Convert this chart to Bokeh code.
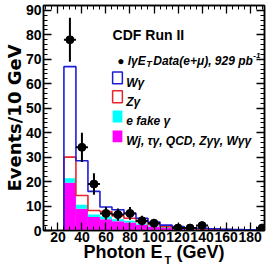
import numpy as np
from bokeh.plotting import figure
from bokeh.models import (Label, BoxAnnotation, LinearAxis, SingleIntervalTicker,
                          FixedTicker, Range1d)
from bokeh.embed import file_html
from bokeh.resources import INLINE

# ---------------- data ----------------
bin_left = [25, 35, 45, 55, 65, 75, 85, 95, 105, 115, 125, 135, 145, 155, 165, 175, 185]
bin_width = 10
# stacked components, bottom to top
other_bkg = [19.5, 8.9, 5.5, 4.6, 3.8, 3.3, 2.4, 1.6, 1.0, 0.7, 0.5, 0.4, 0.3, 0.25, 0.2, 0.15, 0.1]
e_fake = [1.9, 1.6, 1.0, 1.1, 0.8, 0.7, 0.5, 0.4, 0.3, 0.2, 0.1, 0.1, 0.1, 0.05, 0.05, 0.05, 0.05]
z_gamma = [8.6, 3.8, 1.7, 2.0, 1.4, 1.0, 0.7, 0.5, 0.3, 0.2, 0.2, 0.1, 0.1, 0.05, 0.05, 0.0, 0.05]
w_gamma = [37.0, 14.2, 7.8, 1.9, 2.5, 2.0, 1.4, 1.0, 0.6, 0.5, 0.3, 0.3, 0.2, 0.15, 0.1, 0.1, 0.1]

data_x = [30, 40, 50, 60, 70, 80, 90, 100, 120, 130, 140, 190]
data_y = [78, 34, 19, 7, 6.5, 7, 4, 3, 1, 1, 2, 1]
data_err = [9, 6, 4.4, 2.6, 2.5, 2.6, 2.0, 1.7, 1.0, 1.0, 1.4, 1.0]

x_major = 20
y_major = 10

# ---------------- derived ----------------
left = np.array(bin_left, dtype=float)
right = left + bin_width
top_mag = np.array(other_bkg)
top_cyan = top_mag + np.array(e_fake)
top_red = top_cyan + np.array(z_gamma)
top_blue = top_red + np.array(w_gamma)

def step_xy(tops):
    xs = [left[0]] + list(left) + [right[-1]]
    ys = [0.0] + list(tops) + [0.0]
    return xs, ys

X0, X1 = 8, 192
Y0, Y1 = 0, 92
FONT = "Liberation Sans"
BLUE = "#1c1cd8"
RED = "#e8262a"

p = figure(width=268, height=268, x_range=Range1d(X0, X1), y_range=Range1d(Y0, Y1),
           output_backend="svg", toolbar_location=None,
           min_border_left=37, min_border_right=4, min_border_top=5, min_border_bottom=36)
p.background_fill_color = "white"
p.border_fill_color = "white"
p.outline_line_color = "black"
p.outline_line_width = 1.5
p.xgrid.visible = False
p.ygrid.visible = False

# frame geometry in canvas pixels (for placing legend text)
FL, FR, FT, FB = 37, 264, 5, 232
def dx(wx):
    return X0 + (wx - FL) * (X1 - X0) / (FR - FL)
def dy(wy):
    return Y0 + (FB - wy) * (Y1 - Y0) / (FB - FT)

# ---------------- histograms ----------------
p.quad(left=left, right=right, bottom=0, top=top_mag, fill_color="#ff00ff", line_color=None)
p.quad(left=left, right=right, bottom=top_mag, top=top_cyan, fill_color="#00ffff", line_color=None)
xs, ys = step_xy(top_red)
p.step(xs, ys, mode="after", line_color=RED, line_width=1.6)
xs, ys = step_xy(top_blue)
p.step(xs, ys, mode="after", line_color=BLUE, line_width=1.6)

# data points
dxa = np.array(data_x, dtype=float)
dya = np.array(data_y, dtype=float)
dea = np.array(data_err, dtype=float)
p.segment(x0=dxa, y0=dya - dea, x1=dxa, y1=dya + dea, line_color="black", line_width=2)
p.segment(x0=dxa - bin_width / 2, y0=dya, x1=dxa + bin_width / 2, y1=dya, line_color="black", line_width=2)
p.scatter(dxa, dya, size=8, color="black")

# ---------------- axes ----------------
def style_axis(ax, labels=True):
    ax.axis_line_width = 1.5
    ax.major_tick_in = 8
    ax.major_tick_out = 0
    ax.minor_tick_in = 4
    ax.minor_tick_out = 0
    ax.major_tick_line_width = 1.3
    ax.minor_tick_line_width = 1.0
    if labels:
        ax.major_label_text_font = FONT
        ax.major_label_text_font_style = "bold"
        ax.major_label_text_font_size = "14px"
        ax.major_label_text_color = "black"
        ax.major_label_standoff = 2
    else:
        ax.major_label_text_font_size = "1px"
        ax.major_label_text_color = None
        ax.major_label_standoff = 0

p.xaxis.ticker = SingleIntervalTicker(interval=x_major, num_minor_ticks=4)
p.yaxis.ticker = SingleIntervalTicker(interval=y_major, num_minor_ticks=5)
style_axis(p.xaxis[0])
style_axis(p.yaxis[0])
p.xaxis.major_label_standoff = 1

p.yaxis.axis_label = "Events/10 GeV"
p.yaxis.axis_label_text_font = "DejaVu Sans"
p.yaxis.axis_label_text_font_style = "bold"
p.yaxis.axis_label_text_font_size = "18px"
p.yaxis.axis_label_text_color = "black"
p.yaxis.axis_label_standoff = -2

p.xaxis.axis_label = "Photon E\u2002 (GeV)"
p.xaxis.axis_label_text_font = FONT
p.xaxis.axis_label_text_font_style = "bold"
p.xaxis.axis_label_text_font_size = "18px"
p.xaxis.axis_label_text_color = "black"
p.xaxis.axis_label_standoff = -3

# subscript "T" of E_T: label of a bare second axis, pulled up next to the "E"
sub_ax = LinearAxis(ticker=FixedTicker(ticks=[], minor_ticks=[]))
sub_ax.axis_line_color = None
sub_ax.major_tick_line_color = None
sub_ax.minor_tick_line_color = None
sub_ax.major_tick_out = 0
sub_ax.minor_tick_out = 0
sub_ax.major_label_text_font_size = "1px"
sub_ax.major_label_text_color = None
sub_ax.major_label_standoff = 0
sub_ax.axis_label = "\u2003\u2003\u2002T"
sub_ax.axis_label_text_font = FONT
sub_ax.axis_label_text_font_style = "bold"
sub_ax.axis_label_text_font_size = "11px"
sub_ax.axis_label_text_color = "black"
sub_ax.axis_label_standoff = -11
p.add_layout(sub_ax, "below")

top_ax = LinearAxis(ticker=SingleIntervalTicker(interval=x_major, num_minor_ticks=4))
right_ax = LinearAxis(ticker=SingleIntervalTicker(interval=y_major, num_minor_ticks=5))
style_axis(top_ax, labels=False)
style_axis(right_ax, labels=False)
p.add_layout(top_ax, "above")
p.add_layout(right_ax, "right")

# ---------------- legend ----------------
def leg_text(wx, wy, txt, size="12px", align="left", style="bold italic"):
    p.add_layout(Label(x=dx(wx), y=dy(wy), text=txt, text_align=align,
                       text_baseline="alphabetic", text_font=FONT,
                       text_font_style=style, text_font_size=size, text_color="black"))

leg_text(108, 35, "CDF Run II", size="14px", style="bold")
leg_text(142, 61, "\u25cf l\u03b3E", align="right")
leg_text(142.5, 64, "T", size="9px")
leg_text(252, 61, "Data(e+\u03bc), 929 pb", align="right")
leg_text(252.5, 55, "-1", size="8px")

def leg_box(wy_top, wy_bot, fill, line):
    p.add_layout(BoxAnnotation(left=dx(108), right=dx(118), top=dy(wy_top), bottom=dy(wy_bot),
                               fill_color=fill, fill_alpha=1.0,
                               line_color=line, line_alpha=1.0, line_width=1.5))

leg_box(72, 84, "white", BLUE)
leg_box(91, 103, "white", RED)
leg_box(111, 123, "#00ffff", None)
leg_box(131, 143, "#ff00ff", None)
leg_text(122, 83, "W\u03b3")
leg_text(122, 102, "Z\u03b3")
leg_text(122, 122, "e fake \u03b3")
leg_text(122, 142, "Wj, \u03c4\u03b3, QCD, Z\u03b3\u03b3, W\u03b3\u03b3")

open("out.html", "w").write(file_html(p, INLINE))
